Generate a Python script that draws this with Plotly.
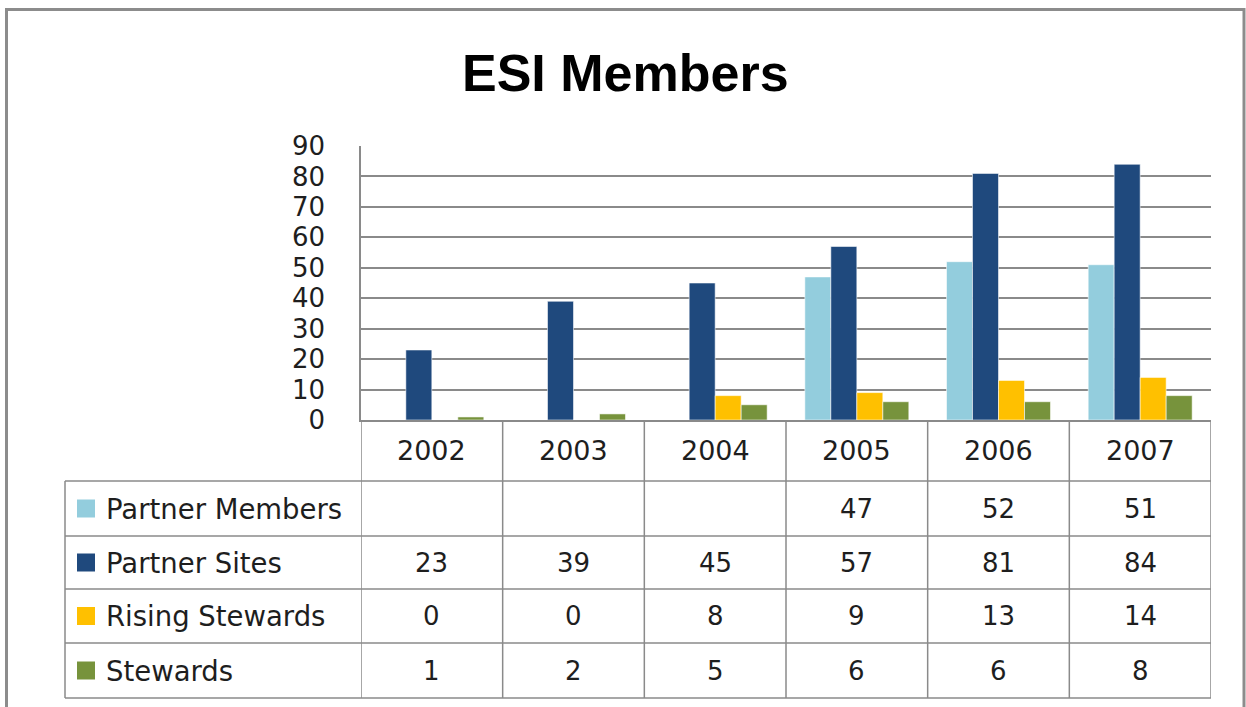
import plotly.graph_objects as go

# chart data
years = ["2002", "2003", "2004", "2005", "2006", "2007"]
partner_members = [None, None, None, 47, 52, 51]
partner_sites = [23, 39, 45, 57, 81, 84]
rising_stewards = [0, 0, 8, 9, 13, 14]
stewards = [1, 2, 5, 6, 6, 8]

series_names = ["Partner Members", "Partner Sites", "Rising Stewards", "Stewards"]
series_values = [partner_members, partner_sites, rising_stewards, stewards]
colours = ["#93CDDD", "#1F497D", "#FFC000", "#77933C"]

W, H = 1246, 707
GRID = "#8a8a8a"
TXT = "#1e1e1e"
FONT = "DejaVu Sans"


def px(x):
    return x / W


def py(y):
    return 1 - y / H


fig = go.Figure()
for name, vals, col in zip(series_names, series_values, colours):
    fig.add_trace(go.Bar(
        x=years, y=vals, name=name,
        marker=dict(color=col, line=dict(color="rgba(255,255,255,0.55)", width=1)),
        showlegend=False,
    ))

# table geometry (pixels)
table_left = 65
row_lines = [481, 536, 589, 643, 698]
row_centers = [508.5, 562.5, 616, 670.5]
header_center = 450.5

shapes = []
# outer frame
shapes.append(dict(type="rect", xref="paper", yref="paper",
                   x0=px(6.5), x1=px(1244), y0=py(760), y1=py(9.5),
                   line=dict(color="#8c8c8c", width=3), layer="below"))
# horizontal table lines
for y in row_lines:
    shapes.append(dict(type="line", xref="paper", yref="paper",
                       x0=px(table_left), x1=px(1211), y0=py(y), y1=py(y),
                       line=dict(color=GRID, width=1.5)))
# left edge of table body
shapes.append(dict(type="line", xref="paper", yref="paper",
                   x0=px(table_left), x1=px(table_left), y0=py(481), y1=py(698),
                   line=dict(color=GRID, width=1.5)))
# column separators at category boundaries
for i in range(len(years) + 1):
    shapes.append(dict(type="line", xref="x", yref="paper",
                       x0=i - 0.5, x1=i - 0.5, y0=py(420), y1=py(698),
                       line=dict(color=GRID, width=1.5)))
# legend keys
for yc, col in zip(row_centers, colours):
    shapes.append(dict(type="rect", xref="paper", yref="paper",
                       x0=px(77), x1=px(95), y0=py(yc + 9), y1=py(yc - 9),
                       fillcolor=col, line=dict(width=0)))

annotations = []
annotations.append(dict(text="<b>ESI Members</b>", xref="paper", yref="paper",
                        x=px(625), y=py(73), showarrow=False,
                        xanchor="center", yanchor="middle",
                        font=dict(family="Liberation Sans", size=52, color="#000000")))
# category positions on the x axis are indices
for i, yr in enumerate(years):
    annotations.append(dict(text=yr, xref="x", yref="paper", x=i, y=py(header_center),
                            showarrow=False, xanchor="center", yanchor="middle",
                            font=dict(family=FONT, size=27, color=TXT)))
for name, vals, yc in zip(series_names, series_values, row_centers):
    annotations.append(dict(text=name, xref="paper", yref="paper", x=px(104), y=py(yc),
                            showarrow=False, xanchor="left", yanchor="middle",
                            font=dict(family=FONT, size=27.5, color=TXT)))
    for i, v in enumerate(vals):
        if v is None:
            continue
        annotations.append(dict(text=str(v), xref="x", yref="paper", x=i, y=py(yc),
                                showarrow=False, xanchor="center", yanchor="middle",
                                font=dict(family=FONT, size=26, color=TXT)))

fig.update_layout(
    width=W, height=H,
    margin=dict(l=0, r=0, t=0, b=0, pad=0, autoexpand=False),
    paper_bgcolor="white", plot_bgcolor="white",
    barmode="group", bargap=0.266, bargroupgap=0,
    shapes=shapes, annotations=annotations,
    xaxis=dict(domain=[px(361), px(1211)], range=[-0.5, 5.5], type="category",
               showticklabels=False, showgrid=False, showline=True, automargin=False,
               linecolor=GRID, linewidth=1.5, ticks="", fixedrange=True),
    yaxis=dict(domain=[py(420), py(146)], range=[0, 90], dtick=10, automargin=False,
               showgrid=True, gridcolor=GRID, gridwidth=1.5, zeroline=False,
               showline=True, linecolor=GRID, linewidth=1.5, ticks="",
               ticklabelstandoff=29,
               tickfont=dict(family=FONT, size=26, color=TXT)),
)

fig.write_html("out.html", config={"displayModeBar": False},
               post_script="document.body.style.margin='0';")
